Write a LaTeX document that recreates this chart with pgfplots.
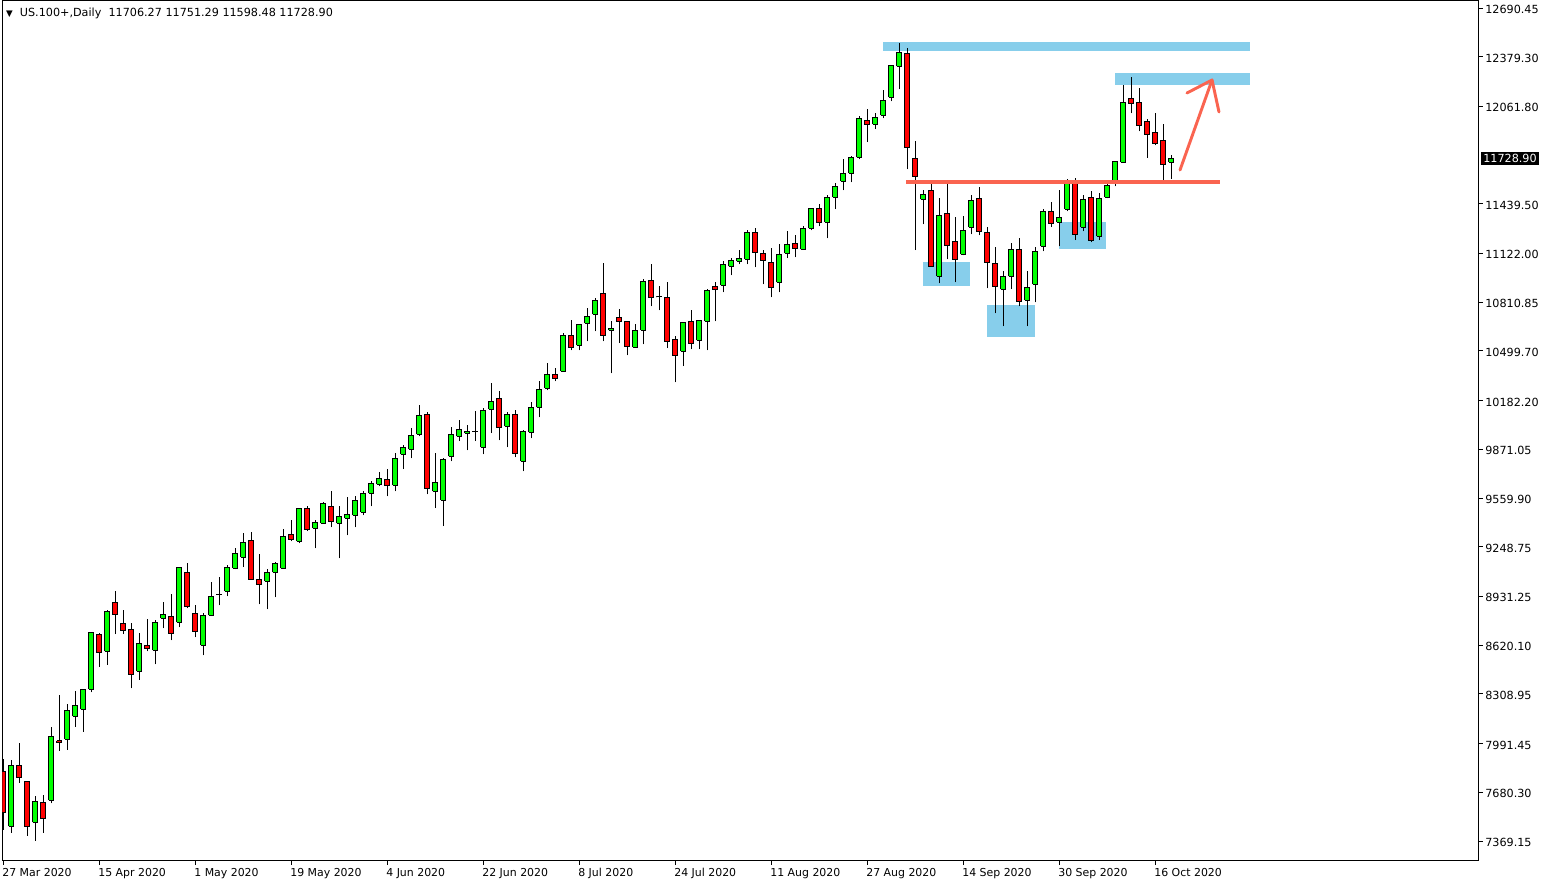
\documentclass[border=0pt]{standalone}
\usepackage{pgfplots}
\pgfplotsset{compat=1.18}
\usepackage{pgfplotstable}
\usepackage{fontspec}
\setmainfont{DejaVu Sans}
\definecolor{bull}{RGB}{0,255,0}
\definecolor{bear}{RGB}{255,0,0}
\definecolor{zone}{RGB}{135,206,235}
\definecolor{trend}{RGB}{250,100,80}

\pgfplotstableread{
i o h l c
0 7812 7893 7440 7553
1 7463 7887 7422 7853
2 7853 7995 7742 7776
3 7751 7751 7403 7463
4 7489 7657 7371 7623
5 7616 7661 7422 7514
6 7629 8097 7610 8038
7 8010 8300 7946 8000
8 8019 8244 7952 8204
9 8166 8327 8099 8236
10 8211 8338 8067 8338
11 8338 8702 8319 8702
12 8690 8696 8483 8575
13 8581 8843 8495 8837
14 8894 8966 8690 8815
15 8760 8843 8690 8715
16 8722 8760 8345 8434
17 8453 8696 8400 8632
18 8619 8787 8581 8600
19 8587 8779 8498 8766
20 8792 8894 8728 8817
21 8805 8945 8651 8696
22 8766 9118 8734 9118
23 9086 9143 8856 8869
24 8824 8875 8670 8709
25 8619 8824 8555 8811
26 8811 9022 8805 8932
27 8945 9054 8875 8946
28 8964 9130 8932 9118
29 9111 9239 9105 9207
30 9182 9335 9118 9277
31 9290 9341 9041 9041
32 9041 9201 8881 9009
33 9028 9105 8849 9086
34 9086 9150 8926 9143
35 9111 9360 9111 9316
36 9328 9418 9284 9297
37 9284 9495 9271 9495
38 9495 9507 9348 9360
39 9367 9418 9239 9405
40 9399 9533 9399 9526
41 9507 9603 9373 9411
42 9399 9507 9175 9443
43 9431 9565 9322 9456
44 9450 9571 9373 9546
45 9469 9603 9450 9590
46 9590 9667 9507 9654
47 9648 9725 9635 9686
48 9680 9744 9571 9641
49 9641 9846 9603 9814
50 9839 9897 9744 9884
51 9871 10006 9814 9961
52 9967 10152 9954 10089
53 10095 10108 9584 9622
54 9603 9846 9495 9661
55 9546 9814 9380 9808
56 9827 10012 9795 9967
57 9954 10057 9923 9999
58 9974 10025 9865 9986
59 9986 10114 9923 9987
60 9884 10133 9839 10121
61 10127 10293 9974 10178
62 10197 10242 9929 10012
63 10018 10108 9884 10095
64 10095 10121 9820 9846
65 9795 9993 9731 9986
66 9980 10172 9942 10140
67 10140 10306 10076 10255
68 10261 10421 10248 10351
69 10351 10389 10306 10325
70 10370 10612 10370 10600
71 10600 10695 10504 10523
72 10536 10670 10504 10670
73 10676 10772 10561 10721
74 10734 10836 10625 10823
75 10868 11060 10561 10600
76 10632 10689 10357 10644
77 10715 10766 10549 10689
78 10689 10689 10472 10529
79 10523 10670 10523 10632
80 10632 10957 10542 10945
81 10951 11053 10785 10842
82 10846 10913 10759 10845
83 10842 10938 10517 10561
84 10574 10593 10299 10472
85 10497 10683 10402 10683
86 10689 10759 10510 10549
87 10568 10695 10510 10695
88 10689 10894 10504 10887
89 10913 10938 10689 10894
90 10919 11072 10874 11053
91 11040 11092 10983 11079
92 11072 11143 11053 11092
93 11085 11270 11053 11258
94 11258 11283 11034 11130
95 11123 11143 10925 11079
96 11066 11155 10842 10906
97 10938 11181 10874 11117
98 11123 11264 11092 11181
99 11187 11238 11098 11155
100 11149 11296 11149 11283
101 11283 11411 11270 11411
102 11411 11436 11296 11321
103 11321 11494 11219 11481
104 11481 11571 11405 11551
105 11583 11724 11526 11635
106 11635 11743 11577 11737
107 11737 11999 11724 11986
108 11973 12043 11833 11948
109 11948 12018 11916 11992
110 12005 12165 11986 12101
111 12120 12324 12094 12324
112 12318 12465 12171 12407
113 12401 12433 11660 11801
114 11730 11839 11143 11615
115 11468 11526 11309 11500
116 11526 11583 11040 11040
117 10977 11475 10932 11366
118 11379 11564 11085 11175
119 11200 11353 10938 11085
120 11117 11360 11111 11270
121 11290 11494 11245 11462
122 11475 11545 11238 11264
123 11258 11290 10900 11066
124 11060 11162 10740 10913
125 10894 11008 10657 10977
126 10977 11187 10894 11149
127 11149 11219 10785 10817
128 10823 11008 10657 10906
129 10925 11162 10810 11136
130 11168 11405 11136 11392
131 11392 11449 11290 11315
132 11321 11526 11168 11353
133 11405 11596 11392 11571
134 11571 11603 11207 11245
135 11290 11494 11264 11468
136 11481 11520 11194 11207
137 11232 11507 11207 11475
138 11481 11577 11475 11558
139 11577 11711 11551 11711
140 11705 12197 11705 12088
141 12114 12248 12018 12082
142 12088 12177 11903 11941
143 11967 11979 11734 11884
144 11896 12018 11813 11826
145 11845 11948 11590 11692
146 11706.27 11751.29 11598.48 11728.90
}\candles

\begin{document}
\begin{tikzpicture}
\path[use as bounding box] (0,0) rectangle (1162.5pt,-663pt);
\begin{axis}[
  at={(1.875pt,-0.375pt)}, anchor=north west,
  scale only axis, width=1107.375pt, height=645pt,
  xmin=-0.1125, xmax=184.45, ymin=7244.6, ymax=12738.4,
  axis line style={black, line width=0.75pt},
  ytick={7369.15,7680.30,7991.45,8308.95,8620.10,8931.25,9248.75,9559.90,9871.05,10182.20,10499.70,10810.85,11122.00,11439.50,12061.80,12379.30,12690.45},
  yticklabels={7369.15,7680.30,7991.45,8308.95,8620.10,8931.25,9248.75,9559.90,9871.05,10182.20,10499.70,10810.85,11122.00,11439.50,12061.80,12379.30,12690.45},
  ytick pos=right, yticklabel pos=right,
  xtick={0,12,...,144},
  xticklabels={27 Mar 2020,15 Apr 2020,1 May 2020,19 May 2020,4 Jun 2020,22 Jun 2020,8 Jul 2020,24 Jul 2020,11 Aug 2020,27 Aug 2020,14 Sep 2020,30 Sep 2020,16 Oct 2020},
  xtick pos=bottom,
  tick align=outside, major tick length=3pt,
  tick style={black, line width=0.75pt},
  yticklabel style={anchor=west, inner sep=0pt, xshift=1.5pt, yshift=-1pt, font=\fontsize{8.4}{10}\selectfont},
  xticklabel style={anchor=north west, inner sep=0pt, xshift=-1pt, yshift=-2.5pt, font=\fontsize{8.2}{9.6}\selectfont},
  /pgf/number format/assume math mode=true,
  clip mode=individual,
  no markers,
]
% zones
\fill[zone] (axis cs:109.95,12473.3) rectangle (axis cs:155.83,12415.8);
\fill[zone] (axis cs:138.95,12275.2) rectangle (axis cs:155.83,12198.6);
\fill[zone] (axis cs:114.95,11067.9) rectangle (axis cs:120.83,10914.6);
\fill[zone] (axis cs:122.95,10793.2) rectangle (axis cs:128.95,10588.8);
\fill[zone] (axis cs:131.95,11323.4) rectangle (axis cs:137.83,11150.9);
% candles
\pgfplotsinvokeforeach{0,...,146}{%
  \pgfplotstablegetelem{#1}{o}\of\candles \let\vo\pgfplotsretval
  \pgfplotstablegetelem{#1}{h}\of\candles \let\vh\pgfplotsretval
  \pgfplotstablegetelem{#1}{l}\of\candles \let\vl\pgfplotsretval
  \pgfplotstablegetelem{#1}{c}\of\candles \let\vc\pgfplotsretval
  \ifdim\vc pt<\vo pt \def\bcol{bear}\else\def\bcol{bull}\fi
  \pgfmathsetmacro\xa{#1-0.3}\pgfmathsetmacro\xb{#1+0.3}%
  \edef\doit{%
    \noexpand\addplot[black, line width=0.75pt] coordinates {(#1,\vl) (#1,\vh)};%
    \noexpand\addplot[draw=black, fill=\bcol, line width=0.75pt, line join=miter] coordinates {(\xa,\vo) (\xb,\vo) (\xb,\vc) (\xa,\vc) (\xa,\vo)};%
  }\doit
}
% trend line and arrow
\draw[trend, line width=3pt] (axis cs:112.83,11582.1) -- (axis cs:152.08,11582.1);
\draw[trend, line width=2.2pt, line cap=round, line join=round] (axis cs:147.08,11655.6) -- (axis cs:151.08,12230.5);
\draw[trend, line width=2.2pt, line cap=round, line join=round] (axis cs:147.95,12147.5) -- (axis cs:151.08,12230.5) -- (axis cs:151.951,12026.1);
% header
\node[anchor=north west, inner sep=0pt, font=\fontsize{8.4}{10}\selectfont] at (rel axis cs:0,1) [xshift=2.5pt, yshift=-5.5pt] {{\fontsize{6.5}{6.5}\selectfont ▼}\ \ US.100+,Daily\ \ 11706.27 11751.29 11598.48 11728.90};
% current price label
\node[anchor=west, fill=black, text=white, inner xsep=1.5pt, inner ysep=1.5pt, font=\fontsize{8.4}{10}\selectfont] at (axis cs:184.45,11728.90) [xshift=1.5pt] {11728.90};
\end{axis}
\end{tikzpicture}
\end{document}
